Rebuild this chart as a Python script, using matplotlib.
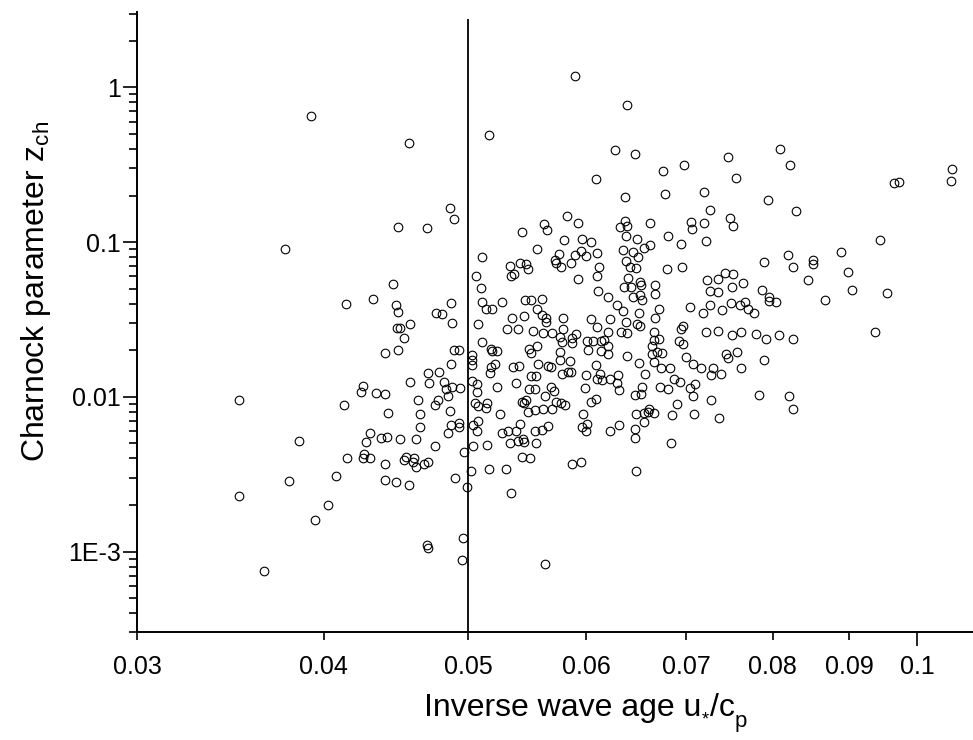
import numpy as np
import matplotlib
matplotlib.use('Agg')
import matplotlib.pyplot as plt
from matplotlib.ticker import LogLocator, NullFormatter

# inverse wave age u*/cp and Charnock parameter
inv_wave_age = [
    0.0392, 0.0456, 0.0516, 0.0590, 0.0639, 0.0627, 0.0809, 0.0822, 0.0829, 0.0965,
    0.0972, 0.1056, 0.1053, 0.0944, 0.0889, 0.0899, 0.0904, 0.0955, 0.0868, 0.0845,
    0.0852, 0.0852, 0.0819, 0.0826, 0.0937, 0.0804, 0.0825, 0.0808, 0.0821, 0.0825,
    0.0647, 0.0747, 0.0698, 0.0675, 0.0756, 0.0609, 0.0678, 0.0637, 0.0720, 0.0794,
    0.0726, 0.0582, 0.0592, 0.0562, 0.0565, 0.0637, 0.0632, 0.0639, 0.0662, 0.0705,
    0.0706, 0.0720, 0.0749, 0.0753, 0.0638, 0.0649, 0.0681, 0.0694, 0.0722, 0.0580,
    0.0596, 0.0604, 0.0556, 0.0575, 0.0572, 0.0573, 0.0577, 0.0590, 0.0586, 0.0595,
    0.0600, 0.0610, 0.0635, 0.0645, 0.0650, 0.0656, 0.0662, 0.0638, 0.0642, 0.0648,
    0.0612, 0.0610, 0.0592, 0.0680, 0.0696, 0.0640, 0.0636, 0.0643, 0.0652, 0.0653,
    0.0667, 0.0667, 0.0652, 0.0645, 0.0654, 0.0611, 0.0620, 0.0629, 0.0635, 0.0651,
    0.0671, 0.0667, 0.0638, 0.0649, 0.0652, 0.0633, 0.0639, 0.0622, 0.0620, 0.0604,
    0.0610, 0.0579, 0.0560, 0.0556, 0.0560, 0.0564, 0.0564, 0.0553, 0.0561, 0.0569,
    0.0579, 0.0576, 0.0578, 0.0587, 0.0591, 0.0587, 0.0601, 0.0606, 0.0602, 0.0614,
    0.0617, 0.0614, 0.0620, 0.0620, 0.0556, 0.0576, 0.0585, 0.0576, 0.0557, 0.0566,
    0.0568, 0.0609, 0.0639, 0.0651, 0.0666, 0.0666, 0.0671, 0.0664, 0.0669, 0.0664,
    0.0674, 0.0666, 0.0692, 0.0697, 0.0694, 0.0697, 0.0704, 0.0718, 0.0726, 0.0740,
    0.0750, 0.0761, 0.0767, 0.0770, 0.0777, 0.0722, 0.0735, 0.0751, 0.0762, 0.0780,
    0.0792, 0.0723, 0.0735, 0.0743, 0.0753, 0.0751, 0.0764, 0.0726, 0.0735, 0.0787,
    0.0795, 0.0795, 0.0789, 0.0700, 0.0708, 0.0745, 0.0747, 0.0757, 0.0790, 0.0762,
    0.0730, 0.0683, 0.0716, 0.0673, 0.0486, 0.0489, 0.0449, 0.0469, 0.0543, 0.0511,
    0.0533, 0.0542, 0.0547, 0.0548, 0.0537, 0.0534, 0.0506, 0.0510, 0.0445, 0.0414,
    0.0432, 0.0447, 0.0449, 0.0487, 0.0476, 0.0480, 0.0488, 0.0457, 0.0448, 0.0450,
    0.0453, 0.0440, 0.0449, 0.0489, 0.0493, 0.0487, 0.0511, 0.0514, 0.0519, 0.0527,
    0.0546, 0.0545, 0.0535, 0.0531, 0.0540, 0.0508, 0.0511, 0.0518, 0.0523, 0.0519,
    0.0503, 0.0503, 0.0503, 0.0521, 0.0518, 0.0536, 0.0541, 0.0549, 0.0551, 0.0551,
    0.0377, 0.0351, 0.0379, 0.0351, 0.0365, 0.0470, 0.0478, 0.0457, 0.0471, 0.0482,
    0.0483, 0.0488, 0.0494, 0.0485, 0.0425, 0.0424, 0.0434, 0.0440, 0.0413, 0.0442,
    0.0463, 0.0477, 0.0475, 0.0464, 0.0486, 0.0464, 0.0430, 0.0427, 0.0437, 0.0441,
    0.0450, 0.0461, 0.0487, 0.0493, 0.0493, 0.0485, 0.0475, 0.0385, 0.0415, 0.0426,
    0.0425, 0.0430, 0.0440, 0.0454, 0.0453, 0.0460, 0.0459, 0.0461, 0.0467, 0.0470,
    0.0497, 0.0408, 0.0440, 0.0447, 0.0456, 0.0490, 0.0499, 0.0502, 0.0516, 0.0530,
    0.0534, 0.0403, 0.0395, 0.0469, 0.0470, 0.0496, 0.0495, 0.0503, 0.0507, 0.0507,
    0.0517, 0.0523, 0.0538, 0.0505, 0.0508, 0.0515, 0.0514, 0.0525, 0.0543, 0.0545,
    0.0547, 0.0548, 0.0549, 0.0551, 0.0508, 0.0504, 0.0507, 0.0504, 0.0515, 0.0527,
    0.0532, 0.0538, 0.0542, 0.0533, 0.0540, 0.0544, 0.0545, 0.0543, 0.0550, 0.0555,
    0.0554, 0.0554, 0.0578, 0.0583, 0.0586, 0.0600, 0.0613, 0.0610, 0.0615, 0.0622,
    0.0630, 0.0629, 0.0631, 0.0599, 0.0568, 0.0571, 0.0563, 0.0573, 0.0577, 0.0581,
    0.0561, 0.0569, 0.0609, 0.0604, 0.0597, 0.0554, 0.0560, 0.0566, 0.0555, 0.0596,
    0.0601, 0.0600, 0.0622, 0.0631, 0.0587, 0.0595, 0.0657, 0.0687, 0.0693, 0.0654,
    0.0653, 0.0647, 0.0672, 0.0681, 0.0704, 0.0710, 0.0708, 0.0727, 0.0739, 0.0727,
    0.0690, 0.0648, 0.0656, 0.0661, 0.0660, 0.0666, 0.0656, 0.0647, 0.0647, 0.0685,
    0.0709, 0.0736, 0.0684, 0.0648, 0.0783, 0.0563,
]

charnock = [
    0.655, 0.44, 0.49, 1.18, 0.765, 0.395, 0.397, 0.315, 0.16, 0.24,
    0.245, 0.298, 0.25, 0.1025, 0.086, 0.064, 0.049, 0.047, 0.0425, 0.057,
    0.077, 0.072, 0.083, 0.069, 0.0263, 0.041, 0.0238, 0.025, 0.0102, 0.0084,
    0.37, 0.355, 0.315, 0.288, 0.26, 0.257, 0.204, 0.195, 0.21, 0.186,
    0.162, 0.148, 0.133, 0.131, 0.12, 0.136, 0.126, 0.127, 0.133, 0.134,
    0.122, 0.133, 0.143, 0.127, 0.109, 0.105, 0.11, 0.0975, 0.102, 0.1025,
    0.104, 0.1, 0.0897, 0.084, 0.077, 0.0735, 0.069, 0.082, 0.073, 0.088,
    0.081, 0.085, 0.089, 0.086, 0.0805, 0.092, 0.096, 0.075, 0.069, 0.068,
    0.069, 0.06, 0.058, 0.067, 0.0695, 0.059, 0.051, 0.051, 0.0555, 0.053,
    0.053, 0.046, 0.0455, 0.0443, 0.042, 0.0485, 0.044, 0.039, 0.036, 0.0349,
    0.0367, 0.0325, 0.0306, 0.0294, 0.0286, 0.0262, 0.0258, 0.032, 0.0262, 0.032,
    0.0284, 0.0322, 0.043, 0.037, 0.034, 0.0322, 0.0303, 0.0266, 0.0257, 0.0257,
    0.0273, 0.0244, 0.0226, 0.0239, 0.0253, 0.0224, 0.023, 0.023, 0.02, 0.0228,
    0.0234, 0.0197, 0.0214, 0.0189, 0.0212, 0.0194, 0.017, 0.0173, 0.0162, 0.0158,
    0.0155, 0.0161, 0.0183, 0.0165, 0.0263, 0.0233, 0.0235, 0.0213, 0.0196, 0.0189,
    0.0191, 0.0167, 0.0229, 0.0221, 0.0276, 0.0288, 0.038, 0.0347, 0.039, 0.0365,
    0.0402, 0.0392, 0.041, 0.0367, 0.035, 0.0262, 0.0268, 0.025, 0.0263, 0.0253,
    0.0235, 0.0565, 0.058, 0.0635, 0.062, 0.0515, 0.0545, 0.0485, 0.0475, 0.049,
    0.0443, 0.0418, 0.074, 0.0181, 0.0164, 0.019, 0.0177, 0.0195, 0.0174, 0.0154,
    0.0153, 0.0153, 0.0153, 0.0153, 0.167, 0.142, 0.125, 0.123, 0.117, 0.08,
    0.0697, 0.0735, 0.072, 0.0673, 0.062, 0.06, 0.06, 0.0505, 0.0535, 0.0396,
    0.0426, 0.0392, 0.0351, 0.0402, 0.0347, 0.0341, 0.0298, 0.0294, 0.0279, 0.0279,
    0.0239, 0.0193, 0.02, 0.02, 0.02, 0.0164, 0.0412, 0.037, 0.037, 0.0412,
    0.042, 0.0333, 0.0324, 0.0276, 0.0274, 0.0295, 0.0225, 0.0204, 0.0199, 0.0197,
    0.0185, 0.0173, 0.0161, 0.0164, 0.0155, 0.0155, 0.0158, 0.0203, 0.0191, 0.0425,
    0.0902, 0.0096, 0.00286, 0.00229, 0.00075, 0.0143, 0.0145, 0.0124, 0.0122, 0.0124,
    0.0112, 0.0116, 0.0114, 0.0101, 0.0118, 0.0108, 0.0106, 0.0104, 0.0089, 0.0079,
    0.0095, 0.0095, 0.0088, 0.0077, 0.0081, 0.0064, 0.0058, 0.0051, 0.0054, 0.0055,
    0.0053, 0.0053, 0.0066, 0.0068, 0.0064, 0.0058, 0.0048, 0.0052, 0.004, 0.0043,
    0.004, 0.004, 0.0037, 0.0041, 0.0039, 0.004, 0.0038, 0.0035, 0.0037, 0.0038,
    0.0044, 0.0031, 0.0029, 0.0028, 0.0027, 0.003, 0.0026, 0.0033, 0.0034, 0.0034,
    0.0024, 0.002, 0.0016, 0.0011, 0.00105, 0.00123, 0.00088, 0.0126, 0.0121, 0.0108,
    0.0143, 0.0116, 0.0122, 0.0091, 0.0087, 0.0091, 0.0085, 0.0078, 0.0093, 0.0091,
    0.0095, 0.008, 0.0113, 0.0136, 0.007, 0.0066, 0.006, 0.0048, 0.0049, 0.0058,
    0.006, 0.006, 0.0067, 0.005, 0.0052, 0.0053, 0.0051, 0.0041, 0.004, 0.0136,
    0.0112, 0.0082, 0.014, 0.0145, 0.0145, 0.0138, 0.014, 0.0131, 0.0128, 0.013,
    0.0138, 0.0123, 0.011, 0.0114, 0.0115, 0.0109, 0.0101, 0.0092, 0.0091, 0.0088,
    0.0084, 0.0084, 0.0097, 0.0093, 0.0078, 0.006, 0.0061, 0.0065, 0.005, 0.0064,
    0.0067, 0.006, 0.006, 0.0066, 0.0037, 0.0038, 0.014, 0.0131, 0.0124, 0.0116,
    0.0104, 0.0103, 0.0116, 0.0113, 0.0114, 0.0121, 0.0101, 0.0138, 0.014, 0.0096,
    0.009, 0.0077, 0.0079, 0.0084, 0.008, 0.0079, 0.0069, 0.0062, 0.0054, 0.0076,
    0.0077, 0.0073, 0.005, 0.0033, 0.0103, 0.00083,
]

# wave age threshold line
threshold = 0.05
threshold_top = 2.75

x_ticks = [0.03, 0.04, 0.05, 0.06, 0.07, 0.08, 0.09]
x_tick_labels = ['0.03', '0.04', '0.05', '0.06', '0.07', '0.08', '0.09']
y_ticks = [1e-3, 1e-2, 1e-1, 1]
y_tick_labels = ['1E-3', '0.01', '0.1', '1']
x_range = (0.03, 0.109)
y_range = (3e-4, 3.08)

plt.rcParams['font.family'] = ['Liberation Sans', 'DejaVu Sans']
plt.rcParams['mathtext.fontset'] = 'custom'
plt.rcParams['mathtext.rm'] = 'Liberation Sans'
plt.rcParams['mathtext.it'] = 'Liberation Sans:italic'
plt.rcParams['mathtext.default'] = 'regular'

W, H = 973, 740
fig = plt.figure(figsize=(W / 100, H / 100), dpi=100)
ax = fig.add_axes([0.1411, 0.1453, 0.8589, 0.8388])

ax.plot(inv_wave_age, charnock, 'o', ms=6.2, mfc='none', mec='black',
        mew=0.8, ls='none')
ax.vlines(threshold, y_range[0], threshold_top, colors='black', lw=1.3)

ax.set_xscale('log')
ax.set_yscale('log')
ax.set_xlim(*x_range)
ax.set_ylim(*y_range)

for side in ['top', 'right']:
    ax.spines[side].set_visible(False)
for side in ['left', 'bottom']:
    ax.spines[side].set_linewidth(1.4)

ax.set_xticks([0.1], ['0.1'])
ax.set_xticks(x_ticks, x_tick_labels, minor=True)
ax.set_yticks(y_ticks, y_tick_labels)
ax.yaxis.set_minor_locator(LogLocator(base=10, subs=np.arange(2, 10)))
ax.yaxis.set_minor_formatter(NullFormatter())

ax.tick_params(which='major', direction='out', length=10, width=1.2, labelsize=18)
ax.tick_params(which='minor', direction='out', length=5.5, width=1.2, labelsize=18)
ax.tick_params(axis='x', which='major', pad=6.5)
ax.tick_params(axis='x', which='minor', pad=11)
ax.tick_params(axis='y', which='major', pad=2)

# x label built piece by piece so the * and p sit low like subscripts
renderer = fig.canvas.get_renderer()
pieces = [('Inverse wave age u', 23, 0), ('*', 13, -9), ('/c', 23, 0), ('p', 16, -11)]
x_px = 424
base_px = H - 715.7
for s, size, dy in pieces:
    t = fig.text(x_px / W, (base_px + dy) / H, s, ha='left', va='baseline',
                 fontsize=size)
    x_px = t.get_window_extent(renderer).x1 + 0.5

fig.text(44 / W, 1 - 291 / H, r'Charnock parameter z$_{ch}$',
         rotation=90, rotation_mode='anchor', ha='center', va='baseline',
         fontsize=23)

fig.savefig('out.png', dpi=100)
